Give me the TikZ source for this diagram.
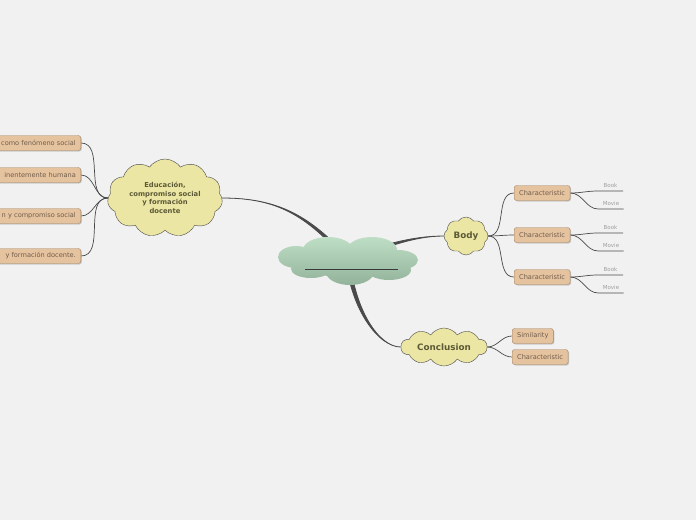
\documentclass[tikz,border=0pt]{standalone}
\usepackage{fontspec}
\setmainfont{DejaVu Sans}
\usepackage{tikz}
\usetikzlibrary{shapes,shadows,backgrounds}

\definecolor{fondo}{HTML}{F1F1F1}
\definecolor{amarillo}{HTML}{ECE6A4}
\definecolor{tostado}{HTML}{E6C39F}
\definecolor{bordeCaja}{HTML}{A08466}
\definecolor{textoCaja}{HTML}{6E5C4A}
\definecolor{textoNube}{HTML}{5C5A36}
\definecolor{verdeClaro}{HTML}{BEDFC6}
\definecolor{verdeOscuro}{HTML}{92B39A}
\definecolor{linea}{HTML}{4A4A4A}

\begin{document}
\begin{tikzpicture}[x=1pt,y=-1pt]

    \tikzset{raizNodo/.style = {shape=rectangle, minimum width=140pt, minimum height=46pt, inner sep=0pt}}
    \tikzset{nubeCentral/.style = {top color=verdeClaro, bottom color=verdeOscuro, draw=none}}
    \tikzset{nubeTema/.style = {shape=cloud, draw=linea, fill=amarillo, cloud ignores aspect, cloud puff arc=110, inner sep=0pt, text=textoNube, align=center}}
    \tikzset{caja/.style = {shape=rectangle, rounded corners=2.5pt, draw=bordeCaja, fill=tostado, text=textoCaja, font=\fontsize{6.6}{8}\selectfont, minimum height=15pt, inner xsep=5pt, inner ysep=0pt, drop shadow={shadow xshift=1pt, shadow yshift=-1pt, opacity=0.35}}}
    \tikzset{hoja/.style = {anchor=south, text=gray!75, font=\fontsize{5.5}{6}\selectfont, minimum width=25pt, inner xsep=0pt, inner ysep=3pt}}
    \tikzset{rama/.style = {draw=linea, line width=0.7pt}}
    \tikzset{tallo/.style = {fill=linea, draw=linea, line width=0.8pt, line join=round}}

    \useasboundingbox (0,0) rectangle (696,520);
    \clip (0,0) rectangle (696,520);

    %nube central
    \node [raizNodo] (raiz) at (348,260) {};
    \shade [nubeCentral]
        ([shift={(-20,-10)}]raiz.center) ellipse [x radius=25pt, y radius=13pt]
        ([shift={(24,-10)}]raiz.center) ellipse [x radius=25pt, y radius=13pt]
        ([shift={(-52,-3)}]raiz.center) ellipse [x radius=18pt, y radius=11pt]
        ([shift={(50,0)}]raiz.center) ellipse [x radius=20pt, y radius=10pt]
        ([shift={(-37,9)}]raiz.center) ellipse [x radius=20pt, y radius=9pt]
        ([shift={(2,12)}]raiz.center) ellipse [x radius=24pt, y radius=13pt]
        ([shift={(41,10)}]raiz.center) ellipse [x radius=22pt, y radius=10pt]
        ([shift={(0,2)}]raiz.center) ellipse [x radius=55pt, y radius=15pt];
    \draw [draw=gray!45!black, line width=0.6pt]
        ([shift={(-43,9)}]raiz.center) -- ([shift={(50,9)}]raiz.center);


    %Educacion
    \node [nubeTema, cloud puffs=11, minimum width=115pt, minimum height=78pt,
           font=\fontsize{6.8}{8.5}\selectfont\bfseries] (NubeEdu) at (165,198)
          {Educación,\\compromiso social\\y formación\\docente};

    \node [caja, anchor=east, text width=110pt, align=right] (izq1) at (81,143) {como fenómeno social};
    \node [caja, anchor=east, text width=110pt, align=right] (izq2) at (81,175) {inentemente humana};
    \node [caja, anchor=east, text width=110pt, align=right] (izq3) at (81,216) {n y compromiso social};
    \node [caja, anchor=east, text width=110pt, align=right] (izq4) at (81,256) {y formación docente.};


    %Body
    \node [nubeTema, cloud puffs=8, minimum width=44pt, minimum height=38pt,
           font=\fontsize{8.8}{10}\selectfont\bfseries] (NubeBody) at (466,236) {Body};

    \node [caja, anchor=west] (car1) at (514,193) {Characteristic};
    \node [caja, anchor=west] (car2) at (514,235) {Characteristic};
    \node [caja, anchor=west] (car3) at (514,277) {Characteristic};

    \node [hoja] (book1) at (610.5,191) {Book};
    \node [hoja] (movie1) at (611,209) {Movie};
    \node [hoja] (book2) at (610.5,233) {Book};
    \node [hoja] (movie2) at (611,251) {Movie};
    \node [hoja] (book3) at (610.5,275) {Book};
    \node [hoja] (movie3) at (611,293) {Movie};


    %Conclusion
    \node [nubeTema, cloud puffs=10, minimum width=86pt, minimum height=38pt,
           font=\fontsize{8.8}{10}\selectfont\bfseries] (NubeConcl) at (444,347) {Conclusion};

    \node [caja, anchor=west] (sim) at (512,336) {Similarity};
    \node [caja, anchor=west] (car4) at (512,357) {Characteristic};


    \begin{scope}[on background layer]
        \fill [fondo] (0,0) rectangle (696,520);

        % ramas principales
        \draw [tallo] (NubeEdu.east)
            .. controls +(55,0) and +(-40,-45) .. ([xshift=-2.2pt]raiz.center)
            -- ([xshift=2.2pt]raiz.center)
            .. controls +(-40,-45) and +(55,0) .. (NubeEdu.east);
        \draw [tallo] (NubeBody.west)
            .. controls +(-30,0) and +(35,-14) .. ([yshift=2pt]raiz.center)
            -- ([yshift=-2pt]raiz.center)
            .. controls +(35,-14) and +(-30,0) .. (NubeBody.west);
        \draw [tallo] (NubeConcl.west)
            .. controls +(-22,0) and +(5,50) .. ([xshift=-2pt]raiz.center)
            -- ([xshift=2pt]raiz.center)
            .. controls +(5,50) and +(-22,0) .. (NubeConcl.west);

        \draw [rama] (NubeEdu.west) to [out=180,in=0] (izq1.east);
        \draw [rama] (NubeEdu.west) to [out=180,in=0] (izq2.east);
        \draw [rama] (NubeEdu.west) to [out=180,in=0] (izq3.east);
        \draw [rama] (NubeEdu.west) to [out=180,in=0] (izq4.east);

        \draw [rama] (NubeBody.east) to [out=0,in=180] (car1.west);
        \draw [rama] (NubeBody.east) to [out=0,in=180] (car2.west);
        \draw [rama] (NubeBody.east) to [out=0,in=180] (car3.west);

        \draw [rama] (car1.east) to [out=0,in=180] (book1.south west) -- (book1.south east);
        \draw [rama] (car1.east) to [out=0,in=180] (movie1.south west) -- (movie1.south east);
        \draw [rama] (car2.east) to [out=0,in=180] (book2.south west) -- (book2.south east);
        \draw [rama] (car2.east) to [out=0,in=180] (movie2.south west) -- (movie2.south east);
        \draw [rama] (car3.east) to [out=0,in=180] (book3.south west) -- (book3.south east);
        \draw [rama] (car3.east) to [out=0,in=180] (movie3.south west) -- (movie3.south east);

        \draw [rama] (NubeConcl.east) to [out=0,in=180] (sim.west);
        \draw [rama] (NubeConcl.east) to [out=0,in=180] (car4.west);
    \end{scope}

\end{tikzpicture}
\end{document}
